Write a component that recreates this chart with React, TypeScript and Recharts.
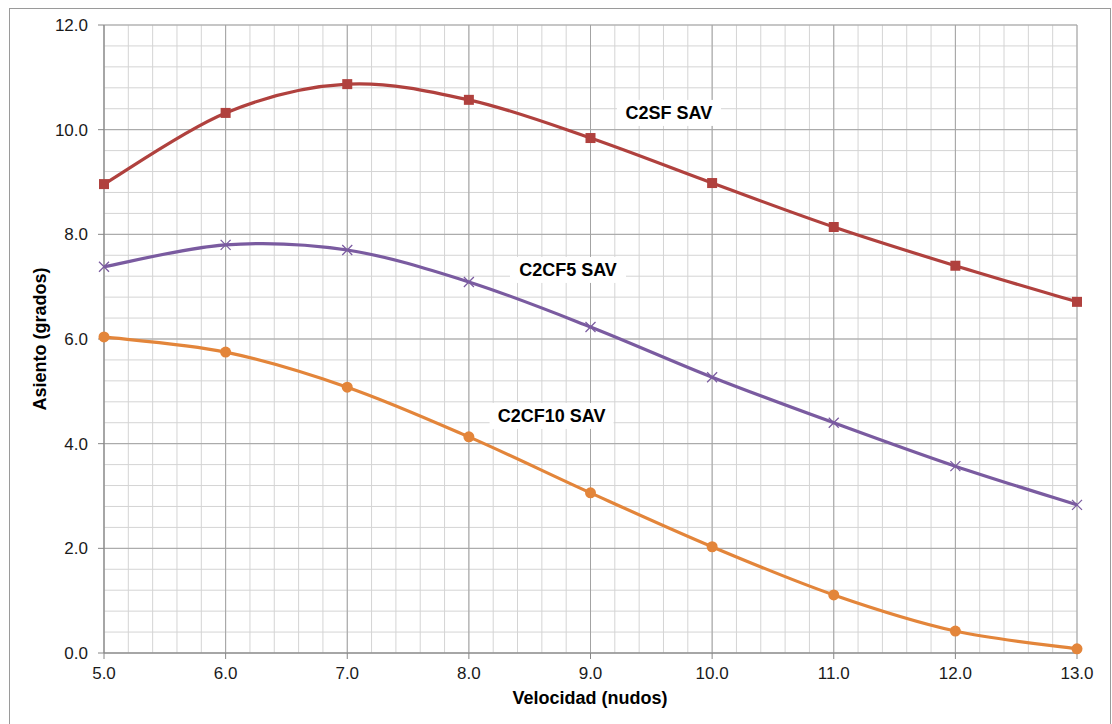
import React from "react";
import {
  CartesianGrid,
  Label,
  Line,
  LineChart,
  ReferenceDot,
  XAxis,
  YAxis,
} from "recharts";

// velocidad (nudos)
const speeds = [5, 6, 7, 8, 9, 10, 11, 12, 13];
// asiento (grados) por serie
const c2sf = [8.96, 10.32, 10.87, 10.57, 9.84, 8.98, 8.14, 7.4, 6.71];
const c2cf5 = [7.38, 7.8, 7.7, 7.09, 6.23, 5.27, 4.4, 3.57, 2.83];
const c2cf10 = [6.04, 5.75, 5.08, 4.13, 3.06, 2.03, 1.11, 0.42, 0.08];

const xTicks = [5, 6, 7, 8, 9, 10, 11, 12, 13];
const yTicks = [0, 2, 4, 6, 8, 10, 12];

const RED = "#B0413E";
const PURPLE = "#7A5BA0";
const ORANGE = "#E3853A";
const FONT = "Arial, 'Liberation Sans', sans-serif";

// minor grid: 5 subdivisions per major step
const minorX: number[] = [];
for (let i = 0; i <= 40; i++) minorX.push(+(5 + i * 0.2).toFixed(1));
const minorY: number[] = [];
for (let i = 0; i <= 30; i++) minorY.push(+(i * 0.4).toFixed(1));

const data = speeds.map((s, i) => ({
  speed: s,
  c2sf: c2sf[i],
  c2cf5: c2cf5[i],
  c2cf10: c2cf10[i],
}));

// excel-like smoothed line (catmull-rom as bezier)
function smoothCurve(context: any) {
  let xs: number[] = [];
  let ys: number[] = [];
  return {
    areaStart() {},
    areaEnd() {},
    lineStart() {
      xs = [];
      ys = [];
    },
    point(x: number, y: number) {
      xs.push(+x);
      ys.push(+y);
    },
    lineEnd() {
      const n = xs.length;
      if (!n) return;
      context.moveTo(xs[0], ys[0]);
      for (let i = 0; i < n - 1; i++) {
        const a = Math.max(i - 1, 0);
        const d = Math.min(i + 2, n - 1);
        context.bezierCurveTo(
          xs[i] + (xs[i + 1] - xs[a]) / 6,
          ys[i] + (ys[i + 1] - ys[a]) / 6,
          xs[i + 1] - (xs[d] - xs[i]) / 6,
          ys[i + 1] - (ys[d] - ys[i]) / 6,
          xs[i + 1],
          ys[i + 1]
        );
      }
    },
  };
}

const SquareDot = (props: any) => {
  const { cx, cy } = props;
  if (cx == null || cy == null) return null;
  return <rect x={cx - 5} y={cy - 5} width={10} height={10} fill={RED} />;
};

const CrossDot = (props: any) => {
  const { cx, cy } = props;
  if (cx == null || cy == null) return null;
  return (
    <g stroke={PURPLE} strokeWidth={1.2}>
      <line x1={cx - 5} y1={cy - 5} x2={cx + 5} y2={cy + 5} />
      <line x1={cx - 5} y1={cy + 5} x2={cx + 5} y2={cy - 5} />
    </g>
  );
};

const CircleDot = (props: any) => {
  const { cx, cy } = props;
  if (cx == null || cy == null) return null;
  return <circle cx={cx} cy={cy} r={5.5} fill={ORANGE} />;
};

const seriesLabel = (text: string, w: number) => (props: any) => {
  const { cx, cy } = props;
  return (
    <g>
      <rect x={cx - w / 2} y={cy - 13} width={w} height={26} fill="#fff" />
      <text
        x={cx}
        y={cy}
        dy="0.35em"
        textAnchor="middle"
        fontFamily={FONT}
        fontWeight="bold"
        fontSize={18}
        fill="#000"
      >
        {text}
      </text>
    </g>
  );
};

export default function App() {
  return (
    <div style={{ position: "absolute", left: 0, top: 0, width: 1112, height: 724, background: "#fff", overflow: "hidden" }}>
      <div
        style={{
          position: "absolute",
          left: 9,
          top: 8,
          width: 1100,
          height: 730,
          border: "1px solid #9a9a9a",
        }}
      />
      <LineChart
        width={1112}
        height={724}
        data={data}
        margin={{ top: 25, right: 35, left: 0, bottom: 0 }}
        style={{ position: "absolute", left: 0, top: 0 }}
      >
        <CartesianGrid
          verticalValues={minorX}
          horizontalValues={minorY}
          stroke="#d4d4d4"
          strokeWidth={1}
        />
        <CartesianGrid stroke="#a3a3a3" strokeWidth={1} />
        <XAxis
          dataKey="speed"
          type="number"
          domain={[5, 13]}
          ticks={xTicks}
          tickFormatter={(v: number) => v.toFixed(1)}
          height={71}
          tickSize={6}
          tickMargin={8}
          stroke="#868686"
          tick={{ fill: "#1a1a1a", fontSize: 17, fontFamily: FONT }}
          interval={0}
        >
          <Label
            content={() => (
              <text
                x={590}
                y={698}
                dy="0.35em"
                textAnchor="middle"
                fontFamily={FONT}
                fontWeight="bold"
                fontSize={18}
                fill="#000"
              >
                Velocidad (nudos)
              </text>
            )}
          />
        </XAxis>
        <YAxis
          type="number"
          domain={[0, 12]}
          ticks={yTicks}
          tickFormatter={(v: number) => v.toFixed(1)}
          width={104}
          tickSize={6}
          tickMargin={10}
          stroke="#868686"
          tick={{ fill: "#1a1a1a", fontSize: 17, fontFamily: FONT }}
          interval={0}
        >
          <Label
            content={() => (
              <text
                x={40}
                y={339}
                dy="0.35em"
                textAnchor="middle"
                transform="rotate(-90 40 339)"
                fontFamily={FONT}
                fontWeight="bold"
                fontSize={18}
                fill="#000"
              >
                Asiento (grados)
              </text>
            )}
          />
        </YAxis>
        <Line
          dataKey="c2sf"
          name="C2SF SAV"
          type={smoothCurve as any}
          stroke={RED}
          strokeWidth={3.2}
          dot={<SquareDot />}
          isAnimationActive={false}
        />
        <Line
          dataKey="c2cf5"
          name="C2CF5 SAV"
          type={smoothCurve as any}
          stroke={PURPLE}
          strokeWidth={3.2}
          dot={<CrossDot />}
          isAnimationActive={false}
        />
        <Line
          dataKey="c2cf10"
          name="C2CF10 SAV"
          type={smoothCurve as any}
          stroke={ORANGE}
          strokeWidth={3.2}
          dot={<CircleDot />}
          isAnimationActive={false}
        />
        <ReferenceDot x={9.645} y={10.32} r={0} shape={seriesLabel("C2SF SAV", 104)} />
        <ReferenceDot x={8.815} y={7.32} r={0} shape={seriesLabel("C2CF5 SAV", 116)} />
        <ReferenceDot x={8.68} y={4.53} r={0} shape={seriesLabel("C2CF10 SAV", 124)} />
      </LineChart>
    </div>
  );
}
